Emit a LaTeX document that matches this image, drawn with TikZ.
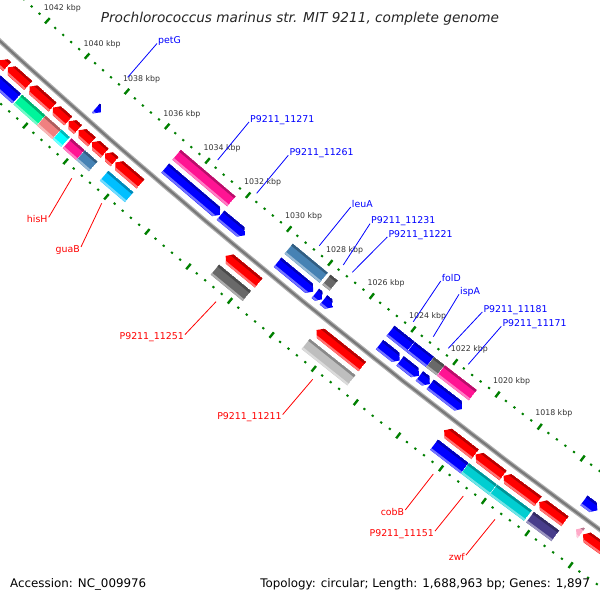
\documentclass[tikz,border=0pt]{standalone}
\usepackage{fontspec}
\setmainfont{DejaVu Sans}
\definecolor{tickgreen}{RGB}{0,128,0}
\definecolor{cogpink}{RGB}{255,20,147}
\definecolor{cogsteel}{RGB}{70,130,180}
\definecolor{coggray}{RGB}{105,105,105}
\definecolor{cogsilver}{RGB}{190,190,190}
\definecolor{cogspring}{RGB}{0,245,155}
\definecolor{cogcoral}{RGB}{240,128,128}
\definecolor{cogcyan}{RGB}{0,255,255}
\definecolor{cogsky}{RGB}{0,191,255}
\definecolor{cogturq}{RGB}{0,206,209}
\definecolor{cogslate}{RGB}{72,61,139}
\definecolor{cogrna}{RGB}{255,170,200}
\definecolor{bbdark}{RGB}{120,120,120}
\definecolor{bblight}{RGB}{175,175,175}

\tikzstyle{fwdlab} = [text=blue, font=\fontsize{9.4}{11}\selectfont, inner sep=1pt, anchor=base west]
\tikzstyle{revlab} = [text=red, font=\fontsize{9.4}{11}\selectfont, inner sep=1pt, anchor=base east]
\tikzstyle{kbplab} = [text=black!80, font=\fontsize{7.85}{9}\selectfont, inner sep=0pt]
\tikzstyle{fwdline} = [draw=blue, line width=0.8pt]
\tikzstyle{revline} = [draw=red, line width=0.8pt]
\tikzstyle{majtick} = [draw=tickgreen, line width=2.4pt]
\tikzstyle{mintick} = [draw=tickgreen, line width=2.2pt]

% angle of a position (kbp), seen from the centre of the map
\newcommand{\bpang}[1]{129.49+(#1-1030)*0.21315}

% #1 inner radius, #2 outer radius, #3 start, #4 end (kbp), #5 colour, #6 0 box / 1 tip at start / 2 tip at end
\newcommand{\gene}[6]{%
  \pgfmathsetmacro\gnS{\bpang{#3}}%
  \pgfmathsetmacro\gnE{\bpang{#4}}%
  \pgfmathsetmacro\gnM{(#1+#2)/2}%
  \pgfmathsetmacro\gnD{#1+2.6}%
  \pgfmathsetmacro\gnL{#2-2.2}%
  \pgfmathsetmacro\gnU{\gnS+0.2}%
  \pgfmathsetmacro\gnV{\gnE-0.2}%
  \ifcase#6\relax
    \def\gnP{(\gnS:#1) -- (\gnE:#1) -- (\gnE:#2) -- (\gnS:#2) -- cycle}%
  \or
    \pgfmathsetmacro\gnT{\gnS-0.042}%
    \def\gnP{(\gnS:\gnM) -- (\gnT:#1) -- (\gnE:#1) -- (\gnE:#2) -- (\gnT:#2) -- cycle}%
  \or
    \pgfmathsetmacro\gnT{\gnE+0.042}%
    \def\gnP{(\gnS:#1) -- (\gnT:#1) -- (\gnE:\gnM) -- (\gnT:#2) -- (\gnS:#2) -- cycle}%
  \fi
  \begin{scope}
    \clip \gnP;
    \fill[#5] \gnP;
    \fill[#5!72!black] (\gnU:#1) -- (\gnV:#1) -- (\gnV:\gnD) -- (\gnU:\gnD) -- cycle;
    \fill[#5!55!white] (\gnU:\gnL) -- (\gnV:\gnL) -- (\gnV:#2) -- (\gnU:#2) -- cycle;
  \end{scope}}
\newcommand{\fwdbox}[3]{\gene{7159}{7172}{#1}{#2}{#3}{0}}
\newcommand{\fwdarrow}[3]{\gene{7177}{7189}{#1}{#2}{#3}{2}}
\newcommand{\revarrow}[3]{\gene{7205}{7217}{#1}{#2}{#3}{1}}
\newcommand{\revbox}[3]{\gene{7222}{7235}{#1}{#2}{#3}{0}}

\begin{document}
\begin{tikzpicture}[x=1pt, y=-1pt]
  \useasboundingbox (0,0) rectangle (600,600);
  \fill[white] (0,0) rectangle (600,600);
  \clip (0,0) rectangle (600,600);

  \begin{scope}[shift={(4835.9,-5288.5)}]
    % ruler rings
    \foreach \i in {0,...,90} {
      \pgfmathsetmacro\ta{\bpang{1010+0.4*\i}}
      \pgfmathtruncatemacro\tm{mod(\i,5)}
      \ifnum\tm=0
        \draw[majtick] (\ta:7146.5) -- (\ta:7153.5);
        \draw[majtick] (\ta:7239.5) -- (\ta:7246.5);
      \else
        \draw[mintick] (\ta:7149) -- (\ta:7151);
        \draw[mintick] (\ta:7242) -- (\ta:7244);
      \fi
    }
    \foreach \k in {1018,1020,...,1042} {
      \pgfmathsetmacro\ta{\bpang{\k-0.12}}
      \node[kbplab] (kbp\k) at (\ta:7131) {\k\ kbp};
    }
    % backbone
    \draw[bblight, line width=4.6pt] plot[domain=125:133.5, samples=60] (\x:7197);
    \draw[bbdark, line width=2.2pt] plot[domain=125:133.5, samples=60] (\x:7197);

    % COG boxes, upper side
    \fwdbox{1035.03}{1032.33}{cogpink}
    \fwdbox{1029.54}{1027.84}{cogsteel}
    \fwdbox{1027.71}{1027.36}{coggray}
    \fwdbox{1024.64}{1023.68}{blue}
    \fwdbox{1023.66}{1022.76}{blue}
    \fwdbox{1022.74}{1022.25}{coggray}
    \fwdbox{1022.23}{1020.72}{cogpink}
    % genes, upper side
    \fwdarrow{1038.46}{1038.22}{blue}
    \fwdarrow{1035.03}{1032.33}{blue}
    \fwdarrow{1032.31}{1031.13}{blue}
    \fwdarrow{1029.54}{1027.82}{blue}
    \fwdarrow{1027.71}{1027.36}{blue}
    \fwdarrow{1027.32}{1026.88}{blue}
    \fwdarrow{1024.64}{1023.68}{blue}
    \fwdarrow{1023.66}{1022.76}{blue}
    \fwdarrow{1022.74}{1022.25}{blue}
    \fwdarrow{1022.23}{1020.72}{blue}
    \fwdarrow{1015.02}{1014.40}{blue}
    % genes, lower side
    \revarrow{1044.00}{1042.55}{red}
    \revarrow{1042.32}{1041.97}{red}
    \revarrow{1041.93}{1040.91}{red}
    \revarrow{1040.85}{1039.70}{red}
    \revarrow{1039.68}{1038.92}{red}
    \revarrow{1038.90}{1038.44}{red}
    \revarrow{1038.40}{1037.75}{red}
    \revarrow{1037.73}{1037.11}{red}
    \revarrow{1037.09}{1036.62}{red}
    \revarrow{1036.58}{1035.35}{red}
    \revarrow{1031.19}{1029.60}{red}
    \revarrow{1026.82}{1024.64}{red}
    \revarrow{1020.77}{1019.31}{red}
    \revarrow{1019.29}{1018.00}{red}
    \revarrow{1017.98}{1016.38}{red}
    \revarrow{1016.33}{1015.13}{red}
    \revarrow{1014.62}{1014.38}{cogrna}
    \revarrow{1014.30}{1012.00}{red}
    % COG boxes, lower side
    \revbox{1041.93}{1040.91}{blue}
    \revbox{1040.85}{1039.70}{cogspring}
    \revbox{1039.68}{1038.92}{cogcoral}
    \revbox{1038.90}{1038.48}{cogcyan}
    \revbox{1038.40}{1037.75}{cogpink}
    \revbox{1037.73}{1037.11}{cogsteel}
    \revbox{1036.57}{1035.35}{cogsky}
    \revbox{1031.17}{1029.63}{coggray}
    \revbox{1026.81}{1024.64}{cogsilver}
    \revbox{1020.74}{1019.31}{blue}
    \revbox{1019.29}{1017.99}{cogturq}
    \revbox{1017.97}{1016.37}{cogturq}
    \revbox{1016.27}{1015.10}{cogslate}
  \end{scope}

  % labels, upper side
  \node[fwdlab] (petG) at (157,43.5) {petG};
  \node[fwdlab] (p11271) at (249,122) {P9211\_11271};
  \node[fwdlab] (p11261) at (288.3,155.3) {P9211\_11261};
  \node[fwdlab] (leuA) at (350.7,207) {leuA};
  \node[fwdlab] (p11231) at (370,223.7) {P9211\_11231};
  \node[fwdlab] (p11221) at (387.3,237) {P9211\_11221};
  \node[fwdlab] (folD) at (440.7,281) {folD};
  \node[fwdlab] (ispA) at (459,294.3) {ispA};
  \node[fwdlab] (p11181) at (482.3,312) {P9211\_11181};
  \node[fwdlab] (p11171) at (501.3,326.3) {P9211\_11171};
  \coordinate (petG-pt) at (127.7,77.3);
  \coordinate (p11271-pt) at (217.7,160);
  \coordinate (p11261-pt) at (256.7,193.3);
  \coordinate (leuA-pt) at (319.3,245.7);
  \coordinate (p11231-pt) at (343.3,265);
  \coordinate (p11221-pt) at (352.3,272.3);
  \coordinate (folD-pt) at (413.3,321.7);
  \coordinate (ispA-pt) at (433.3,336.7);
  \coordinate (p11181-pt) at (448.3,348.3);
  \coordinate (p11171-pt) at (468.3,364.3);
  \draw[fwdline] (petG.base west) -- (petG-pt);
  \draw[fwdline] (p11271.base west) -- (p11271-pt);
  \draw[fwdline] (p11261.base west) -- (p11261-pt);
  \draw[fwdline] (leuA.base west) -- (leuA-pt);
  \draw[fwdline] (p11231.base west) -- (p11231-pt);
  \draw[fwdline] (p11221.base west) -- (p11221-pt);
  \draw[fwdline] (folD.base west) -- (folD-pt);
  \draw[fwdline] (ispA.base west) -- (ispA-pt);
  \draw[fwdline] (p11181.base west) -- (p11181-pt);
  \draw[fwdline] (p11171.base west) -- (p11171-pt);

  % labels, lower side
  \node[revlab] (hisH) at (48.7,222.7) {hisH};
  \node[revlab] (guaB) at (81,252) {guaB};
  \node[revlab] (p11251) at (185,339.7) {P9211\_11251};
  \node[revlab] (p11211) at (282.7,419.7) {P9211\_11211};
  \node[revlab] (cobB) at (405.3,515.3) {cobB};
  \node[revlab] (p11151) at (435,536.3) {P9211\_11151};
  \node[revlab] (zwf) at (466,560.4) {zwf};
  \coordinate (hisH-pt) at (71.7,178.3);
  \coordinate (guaB-pt) at (101.7,203.3);
  \coordinate (p11251-pt) at (216,301.7);
  \coordinate (p11211-pt) at (312.7,379.3);
  \coordinate (cobB-pt) at (433.3,474);
  \coordinate (p11151-pt) at (463.3,496);
  \coordinate (zwf-pt) at (495,519.3);
  \draw[revline] ([yshift=-3pt]hisH.north east) -- (hisH-pt);
  \draw[revline] ([yshift=-3pt]guaB.north east) -- (guaB-pt);
  \draw[revline] ([yshift=-3pt]p11251.north east) -- (p11251-pt);
  \draw[revline] ([yshift=-3pt]p11211.north east) -- (p11211-pt);
  \draw[revline] ([yshift=-3pt]cobB.north east) -- (cobB-pt);
  \draw[revline] ([yshift=-3pt]p11151.north east) -- (p11151-pt);
  \draw[revline] ([yshift=-3pt]zwf.north east) -- (zwf-pt);

  % title and legend
  \node[anchor=base, inner sep=0pt, text=black!85, font=\fontsize{13.66}{16}\selectfont\itshape] (title) at (300,22.5) {Prochlorococcus marinus str. MIT 9211, complete genome};
  \node[anchor=base west, inner sep=0pt, font=\fontsize{11.86}{14}\selectfont] (acc) at (10,587) {Accession: NC\_009976};
  \node[anchor=base east, inner sep=0pt, font=\fontsize{11.86}{14}\selectfont] (topo) at (590,587) {Topology: circular; Length: 1,688,963 bp; Genes: 1,897};
\end{tikzpicture}
\end{document}
